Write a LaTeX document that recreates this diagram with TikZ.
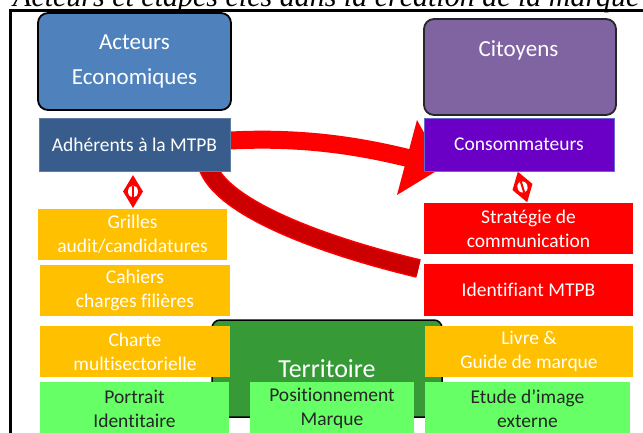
\documentclass[tikz,border=0pt]{standalone}
\usepackage{fontspec}
\setmainfont{Carlito}[Ligatures=NoCommon]
\newfontfamily\capfont{Liberation Serif}
\usetikzlibrary{shapes.geometric}
\definecolor{actblue}{RGB}{79,129,189}
\definecolor{adhblue}{RGB}{56,93,140}
\definecolor{citpurple}{RGB}{128,100,162}
\definecolor{conspurple}{RGB}{106,0,198}
\definecolor{yel}{RGB}{255,192,0}
\definecolor{lgreen}{RGB}{102,255,102}
\definecolor{tgreen}{RGB}{54,154,55}
\definecolor{dred}{RGB}{204,0,0}
\definecolor{txtdark}{RGB}{38,38,38}
\begin{document}
\begin{tikzpicture}[x=1pt,y=-1pt,
  box/.style={rectangle, inner sep=0pt, align=center, font=\fontsize{19.5}{24}\selectfont},
  ybox/.style={box, fill=yel, text=white},
  rbox/.style={box, fill=red, text=white},
  gbox/.style={box, fill=lgreen, text=txtdark},
  bigbox/.style={rectangle, rounded corners=10pt, draw=black, line width=1.8pt, inner sep=0pt, align=center},
  link/.style={diamond, fill=red, inner sep=0pt, minimum width=20pt, minimum height=33pt},
  bandA/.style={red, line width=18pt},
  bandB/.style={dred, line width=16pt}
]
\useasboundingbox (0,0) rectangle (643,432);
\clip (0,0) rectangle (643,432);

% caption (cut at top)
\node[anchor=base west, inner sep=0pt, font=\capfont\itshape\fontsize{30}{30}\selectfont] (cap) at (13,6.5)
  {\llap{: }Acteurs et étapes clés dans la création de la marque};

% frame
\draw[black, line width=2.6pt] (10.5,500) -- (10.5,10.7) -- (700,10.7);

% curved connectors (behind the boxes)
\coordinate (a1s) at (222,141);
\coordinate (a1e) at (412,159);
\coordinate (h1) at (417,120);
\coordinate (h2) at (443,167);
\coordinate (h3) at (397,195);
\draw[bandA] (a1s) .. controls (300,136) and (360,146) .. (a1e);
\fill[red] (h1) -- (h2) -- (h3) -- cycle;

\coordinate (a2s) at (206,160);
\coordinate (a2e) at (418.5,268.5);
\draw[red, line width=19pt] (a2s) .. controls (212,205) and (320,245) .. (a2e);
\draw[bandB] (a2s) .. controls (212,205) and (320,245) .. (a2e);

% Territoire (behind the small boxes)
\node[bigbox, fill=tgreen, rounded corners=8pt, line width=1.5pt, minimum width=230pt, minimum height=97pt] (terr) at (327,368.5) {};
\node[anchor=base, inner sep=0pt, text=white, font=\fontsize{26}{30}\selectfont] (terrlbl) at (327,377) {Territoire};

% left column
\node[bigbox, fill=actblue, text=white, minimum width=193pt, minimum height=97pt, font=\fontsize{23}{35}\selectfont] (act) at (134.5,61.5) {Acteurs\\Economiques};
\node[box, fill=adhblue, draw=adhblue!80!white, line width=0.6pt, text=white, minimum width=191pt, minimum height=53pt] (adh) at (134.5,144.5) {Adhérents à la MTPB};
\node[ybox, minimum width=189pt, minimum height=51pt] (grilles) at (132.5,234.5) {Grilles\\audit/candidatures};
\node[ybox, minimum width=190pt, minimum height=51pt] (cahiers) at (135,290.5) {Cahiers\\charges filières};
\node[ybox, minimum width=190pt, minimum height=51pt] (charte) at (135,351.5) {Charte\\multisectorielle};
\node[gbox, minimum width=189pt, minimum height=53pt] (portrait) at (134.5,408.5) {Portrait\\Identitaire};

% middle
\node[gbox, minimum width=164pt, minimum height=52pt] (posit) at (332,408) {Positionnement\\Marque};

% right column
\node[bigbox, fill=citpurple, draw=black!85, minimum width=192pt, minimum height=96pt] (cit) at (520,67) {};
\node[anchor=base, inner sep=0pt, text=white, font=\fontsize{23}{28}\selectfont] (citlbl) at (518.5,56.5) {Citoyens};
\node[box, fill=conspurple, draw=black!30!blue!60, line width=0.8pt, text=white, minimum width=190pt, minimum height=53pt] (cons) at (519,144.5) {Consommateurs};
\node[rbox, minimum width=209pt, minimum height=51pt] (strat) at (528.5,228.5) {Stratégie de\\communication};
\node[rbox, minimum width=209pt, minimum height=52pt] (ident) at (528.5,290) {Identifiant MTPB};
\node[ybox, minimum width=208pt, minimum height=51pt] (livre) at (529,351.5) {Livre \&\\Guide de marque};
\node[gbox, minimum width=205pt, minimum height=53pt] (etude) at (527.5,408.5) {Etude d’image\\externe};

% link marks
\node[link] (dl) at (133,191.5) {};
\fill[white] (dl.center) ellipse [x radius=5pt, y radius=6pt];
\draw[red, line width=2pt] ([yshift=-6pt]dl.center) -- ([yshift=6pt]dl.center);

\node[link, rotate=17, minimum width=21pt, minimum height=32pt] (dr) at (522.5,187) {};
\begin{scope}[shift={(dr.center)}, rotate=17]
  \fill[white] (0,0) ellipse [x radius=5pt, y radius=6pt];
  \draw[red, line width=2pt] (0,-6) -- (0,6);
\end{scope}
\end{tikzpicture}
\end{document}
